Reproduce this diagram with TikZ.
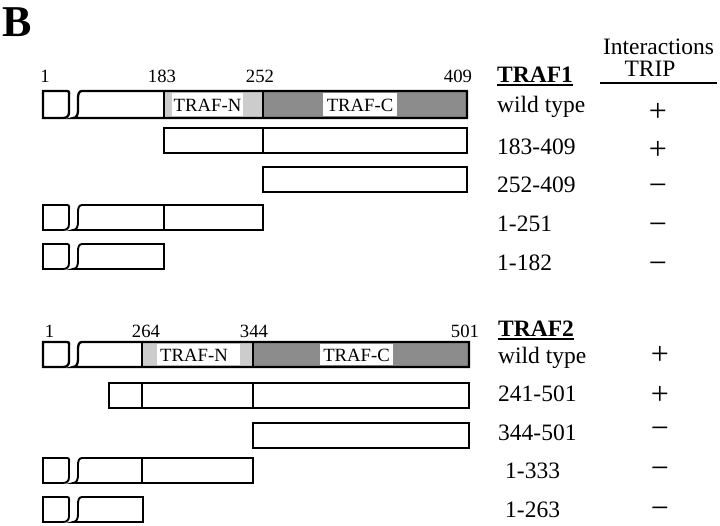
\documentclass[tikz,border=0pt]{standalone}
\usepackage{fontspec}
\setmainfont{Liberation Serif}
\newcommand\lblfont{\fontsize{23.5}{28}\selectfont}
\newcommand\numfont{\fontsize{18.7}{22}\selectfont}
\newcommand\signfont{\fontsize{32}{34}\selectfont}
\tikzset{
  box/.style={line width=1.9pt, line join=miter},
  wbox/.style={line width=2.3pt, line join=miter},
  lightfill/.style={fill=black!20},
  darkfill/.style={fill=black!45},
  lbl/.style={font=\lblfont, inner sep=0pt, anchor=base west},
  numlbl/.style={font=\numfont, inner sep=0pt, anchor=base},
  sign/.style={font=\signfont, inner sep=0pt, anchor=base},
  dom/.style={font=\numfont, inner sep=0pt, anchor=center}
}
% broken left part: #1 top, #2 bottom, #3 right end x, #4 style
\newcommand\brkbox[4]{%
  \draw[#4] (43,#1) -- (67,#1) .. controls (70,#1) and (69,#1+3) .. (69,#1+6) -- (69,#2-6) .. controls (69,#2-2) and (67,#2) .. (63,#2) -- (43,#2) -- cycle;
  \draw[#4] (82,#1) -- (#3,#1) -- (#3,#2) -- (73,#2) .. controls (77,#2) and (78,#2-4) .. (78,#2-8) -- (78,#1+7) .. controls (78,#1+3) and (79,#1) .. (82,#1) -- cycle;
}
\begin{document}
\begin{tikzpicture}[x=1pt,y=-1pt]
\useasboundingbox (0,0) rectangle (720,526);
\node[anchor=base west, inner sep=0pt, font=\fontsize{44}{48}\selectfont\bfseries] (B) at (2,37) {B};

% header
\node[font=\lblfont, inner sep=0pt, anchor=base] (inter) at (658.5,55) {Interactions};
\node[font=\lblfont, inner sep=0pt, anchor=base] (trip) at (650,77) {TRIP};
\coordinate (tripL) at (600,83);
\coordinate (tripR) at (717,83);
\draw[line width=1.5pt] (tripL) -- (tripR);

% ================= TRAF1 =================
\node[numlbl] (n1a) at (45,83) {1};
\node[numlbl] (n1b) at (162,83) {183};
\node[numlbl] (n1c) at (260,83) {252};
\node[numlbl] (n1d) at (458,83) {409};
\node[lbl, font=\lblfont\bfseries] (t1) at (497,83) {TRAF1};
\draw[line width=1.4pt] ([yshift=-2pt]t1.base west) -- ([yshift=-2pt]t1.base east);

% wild type
\fill[lightfill] (164,91) rectangle (263,118);
\fill[darkfill] (263,91) rectangle (467,118);
\fill[white] (172,93) rectangle (243,116);
\fill[white] (323,93) rectangle (397,116);
\node[dom] (tn1) at (207.5,105) {TRAF-N};
\node[dom] (tc1) at (360,105) {TRAF-C};
\brkbox{91}{118}{467}{wbox}
\draw[box] (164,91) -- (164,118);
\draw[wbox] (263,91) -- (263,118);
% 183-409
\draw[box] (164,128) rectangle (467,153);
\draw[box] (263,128) -- (263,153);
% 252-409
\draw[box] (263,167) rectangle (467,192);
% 1-251
\brkbox{205}{230}{263}{box}
\draw[box] (164,205) -- (164,230);
% 1-182
\brkbox{244}{269}{164}{box}

\node[lbl] (l11) at (497,113) {wild type};
\node[lbl] (l12) at (497,155) {183-409};
\node[lbl] (l13) at (497,193) {252-409};
\node[lbl] (l14) at (497,232) {1-251};
\node[lbl] (l15) at (497,271) {1-182};

\node[sign] (s11) at (658,122) {+};
\node[sign] (s12) at (658,160) {+};
\node[sign] (s13) at (658,196) {−};
\node[sign] (s14) at (658,235) {−};
\node[sign] (s15) at (658,274) {−};

% ================= TRAF2 =================
\node[numlbl] (n2a) at (49.5,338) {1};
\node[numlbl] (n2b) at (146,338) {264};
\node[numlbl] (n2c) at (254,338) {344};
\node[numlbl] (n2d) at (465,338) {501};
\node[lbl, font=\lblfont\bfseries] (t2) at (498,337) {TRAF2};
\draw[line width=1.4pt] ([yshift=-2pt]t2.base west) -- ([yshift=-2pt]t2.base east);

% wild type
\fill[lightfill] (142,342) rectangle (253,367);
\fill[darkfill] (253,342) rectangle (469,367);
\fill[white] (157,344) rectangle (240,365);
\fill[white] (320,344) rectangle (393,365);
\node[dom] (tn2) at (194,355) {TRAF-N};
\node[dom] (tc2) at (356.5,355) {TRAF-C};
\brkbox{342}{367}{469}{wbox}
\draw[box] (142,342) -- (142,367);
\draw[wbox] (253,342) -- (253,367);
% 241-501
\draw[box] (109,383) rectangle (469,408);
\draw[box] (142,383) -- (142,408);
\draw[box] (253,383) -- (253,408);
% 344-501
\draw[box] (253,423) rectangle (469,448);
% 1-333
\brkbox{458}{483}{253}{box}
\draw[box] (142,458) -- (142,483);
% 1-263
\brkbox{497}{522}{143}{box}

\node[lbl] (l21) at (498,363) {wild type};
\node[lbl] (l22) at (498,402) {241-501};
\node[lbl] (l23) at (498,440) {344-501};
\node[lbl] (l24) at (505,478) {1-333};
\node[lbl] (l25) at (505,517) {1-263};

\node[sign] (s21) at (660,365) {+};
\node[sign] (s22) at (660,404) {+};
\node[sign] (s23) at (660,438) {−};
\node[sign] (s24) at (660,478) {−};
\node[sign] (s25) at (660,518) {−};
\end{tikzpicture}
\end{document}
